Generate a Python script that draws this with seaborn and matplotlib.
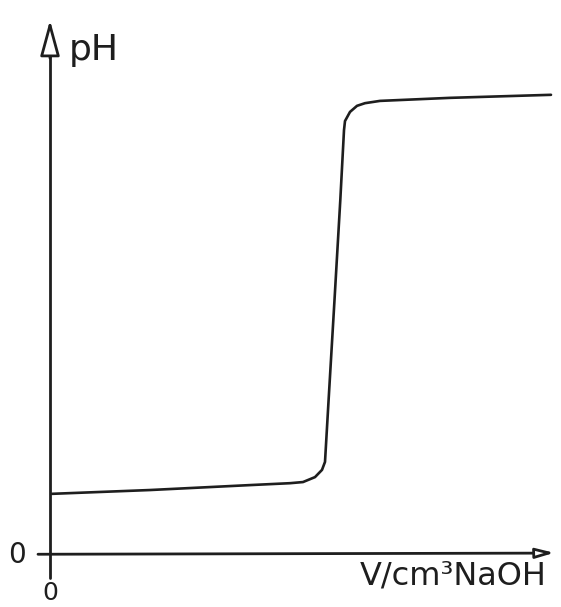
import matplotlib
matplotlib.use("Agg")
import matplotlib.pyplot as plt
import seaborn as sns
import pandas as pd

# Titration curve (volume in cm3, pH)
volume = [0.2, 10, 20, 24, 25.3, 26.5, 27.2, 27.5, 27.86, 28.45, 29.03, 29.4,
          29.5, 30, 30.7, 31.5, 33, 40, 50.1]
ph = [1.61, 1.71, 1.84, 1.89, 1.92, 2.05, 2.24, 2.45, 4.08, 6.71, 9.34, 11.18,
      11.42, 11.66, 11.82, 11.89, 11.95, 12.03, 12.11]

df = pd.DataFrame({'volume': volume, 'ph': ph})

sns.set_style('white')
ink = '#1e1e1e'

fig = plt.figure(figsize=(5.61, 6.07), dpi=100)
ax = fig.add_axes([0, 0, 1, 1])

sns.lineplot(data=df, x='volume', y='ph', color=ink, linewidth=1.9, sort=False, ax=ax)

# hand drawn axes with arrows
ax.plot([0, 0], [-0.6, 13.4], color=ink, linewidth=2.0)
ax.plot([-1.2, 49.6], [0.02, 0.05], color=ink, linewidth=2.0)
ax.annotate('', xy=(0, 14.15), xytext=(0, 13.0),
            arrowprops=dict(arrowstyle='-|>,head_length=2.2,head_width=0.6',
                            color=ink, lw=2.0, fc='white'))
ax.annotate('', xy=(50.7, 0.06), xytext=(49.2, 0.05),
            arrowprops=dict(arrowstyle='-|>,head_length=1.1,head_width=0.3',
                            color=ink, lw=2.0, fc='white'))

ax.text(1.9, 13.3, 'pH', fontsize=26, color=ink, ha='left', va='center')
ax.text(49.7, -0.55, 'V/cm³NaOH', fontsize=23, color=ink, ha='right', va='center')
ax.text(-3.3, 0.0, '0', fontsize=20, color=ink, ha='center', va='center')
ax.text(0.0, -1.0, '0', fontsize=18, color=ink, ha='center', va='center')

ax.set_xlim(-5, 51.1)
ax.set_ylim(-1.368, 14.605)
ax.set_axis_off()

plt.savefig('out.png', dpi=100)
